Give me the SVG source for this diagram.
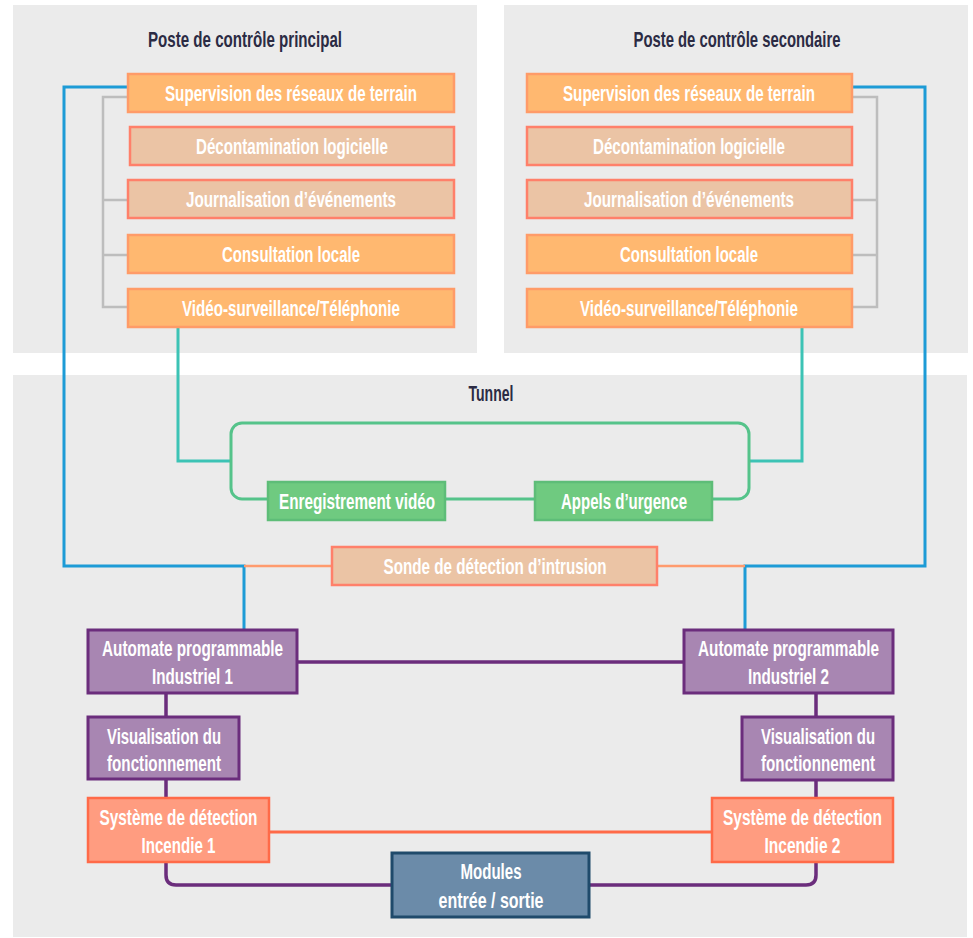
<svg xmlns="http://www.w3.org/2000/svg" width="973" height="938" viewBox="0 0 973 938">
  <style>
    text { font-family: "Liberation Sans Narrow", "Liberation Sans", "DejaVu Sans Condensed", sans-serif; font-weight: bold; text-anchor: middle; }
    .lbl { font-size: 22px; fill: #ffffff; }
    .title { font-size: 22px; fill: #2b2b44; }
    .panel { fill: #ebebeb; }
    .orange { fill: #ffb870; stroke: #ff9b68; stroke-width: 2.5; }
    .beige { fill: #ebc4a5; stroke: #ff806a; stroke-width: 2.5; }
    .green { fill: #6fca80; stroke: #5ebd78; stroke-width: 2.5; }
    .purple { fill: #a886b2; stroke: #6b2d7c; stroke-width: 3; }
    .fire { fill: #ff9c80; stroke: #ff6a48; stroke-width: 2.5; }
    .io { fill: #6b8ba9; stroke: #1f4a6b; stroke-width: 3; }
    .wire { fill: none; stroke-linejoin: miter; }
    .gray { stroke: #bdbdbd; stroke-width: 2.5; }
    .blue { stroke: #1d9bd6; stroke-width: 3; }
    .teal { stroke: #3cc3b5; stroke-width: 3; }
    .loop { stroke: #55c38a; stroke-width: 3; }
    .salmon { stroke: #ff9b6e; stroke-width: 2.5; }
    .violet { stroke: #6b2d7c; stroke-width: 3.5; }
    .red { stroke: #ff6a48; stroke-width: 3; }
  </style>

  <!-- background zones -->
  <rect width="973" height="938" fill="#ffffff"/>
  <g id="zones">
    <rect class="panel" x="13" y="5" width="464" height="348"/>
    <rect class="panel" x="504" y="5" width="464" height="348"/>
    <rect class="panel" x="13" y="375" width="954" height="562"/>
    <text class="title" x="245" y="47" textLength="194" lengthAdjust="spacingAndGlyphs">Poste de contrôle principal</text>
    <text class="title" x="737" y="47" textLength="207" lengthAdjust="spacingAndGlyphs">Poste de contrôle secondaire</text>
    <text class="title" x="491" y="401" textLength="45" lengthAdjust="spacingAndGlyphs">Tunnel</text>
  </g>

  <!-- connectors -->
  <g id="connectors" class="wire">
    <path class="gray" d="M128,97 H103 V307 H128 M103,200 H128 M103,255 H128"/>
    <path class="gray" d="M852,97 H877 V307 H852 M877,200 H852 M877,255 H852"/>
    <path class="blue" d="M128,87 H64 V566 H244 V630"/>
    <path class="blue" d="M852,87 H925 V566 H745 V630"/>
    <path class="salmon" d="M244,566 H332 M657,566 H745"/>
    <path class="teal" d="M178,327 V461 H231"/>
    <path class="teal" d="M802,327 V461 H749"/>
    <rect class="loop" x="231" y="423" width="518" height="76" rx="11"/>
    <path class="violet" d="M297,662 H684"/>
    <path class="violet" d="M166,693 V717 M166,779 V798 M166,862 V875 Q166,885 176,885 H392"/>
    <path class="violet" d="M816,693 V717 M816,780 V798 M816,862 V875 Q816,885 806,885 H589"/>
    <path class="red" d="M269,832 H712"/>
  </g>

  <!-- main control post -->
  <g id="p-supervision">
    <rect class="orange" x="128" y="74" width="326" height="38"/>
    <text class="lbl" x="291" y="101" textLength="252" lengthAdjust="spacingAndGlyphs">Supervision des réseaux de terrain</text>
  </g>
  <g id="p-decontamination">
    <rect class="beige" x="130" y="127" width="324" height="38"/>
    <text class="lbl" x="292" y="154" textLength="192" lengthAdjust="spacingAndGlyphs">Décontamination logicielle</text>
  </g>
  <g id="p-journalisation">
    <rect class="beige" x="128" y="180" width="326" height="38"/>
    <text class="lbl" x="291" y="207" textLength="210" lengthAdjust="spacingAndGlyphs">Journalisation d’événements</text>
  </g>
  <g id="p-consultation">
    <rect class="orange" x="128" y="235" width="326" height="38"/>
    <text class="lbl" x="291" y="262" textLength="138" lengthAdjust="spacingAndGlyphs">Consultation locale</text>
  </g>
  <g id="p-video">
    <rect class="orange" x="128" y="289" width="326" height="38"/>
    <text class="lbl" x="291" y="316" textLength="218" lengthAdjust="spacingAndGlyphs">Vidéo-surveillance/Téléphonie</text>
  </g>

  <!-- secondary control post -->
  <g id="s-supervision">
    <rect class="orange" x="527" y="74" width="325" height="38"/>
    <text class="lbl" x="689" y="101" textLength="252" lengthAdjust="spacingAndGlyphs">Supervision des réseaux de terrain</text>
  </g>
  <g id="s-decontamination">
    <rect class="beige" x="527" y="127" width="325" height="38"/>
    <text class="lbl" x="689" y="154" textLength="192" lengthAdjust="spacingAndGlyphs">Décontamination logicielle</text>
  </g>
  <g id="s-journalisation">
    <rect class="beige" x="527" y="180" width="325" height="38"/>
    <text class="lbl" x="689" y="207" textLength="210" lengthAdjust="spacingAndGlyphs">Journalisation d’événements</text>
  </g>
  <g id="s-consultation">
    <rect class="orange" x="527" y="235" width="325" height="38"/>
    <text class="lbl" x="689" y="262" textLength="138" lengthAdjust="spacingAndGlyphs">Consultation locale</text>
  </g>
  <g id="s-video">
    <rect class="orange" x="527" y="289" width="325" height="38"/>
    <text class="lbl" x="689" y="316" textLength="218" lengthAdjust="spacingAndGlyphs">Vidéo-surveillance/Téléphonie</text>
  </g>

  <!-- tunnel -->
  <g id="enregistrement">
    <rect class="green" x="268" y="482" width="177" height="38"/>
    <text class="lbl" x="357" y="509" textLength="156" lengthAdjust="spacingAndGlyphs">Enregistrement vidéo</text>
  </g>
  <g id="appels">
    <rect class="green" x="535" y="482" width="177" height="38"/>
    <text class="lbl" x="624" y="509" textLength="126" lengthAdjust="spacingAndGlyphs">Appels d’urgence</text>
  </g>
  <g id="sonde">
    <rect class="beige" x="332" y="547" width="325" height="38"/>
    <text class="lbl" x="495" y="574" textLength="223" lengthAdjust="spacingAndGlyphs">Sonde de détection d’intrusion</text>
  </g>

  <g id="automate1">
    <rect class="purple" x="88" y="630" width="209" height="63"/>
    <text class="lbl" x="192.5" y="656" textLength="181" lengthAdjust="spacingAndGlyphs">Automate programmable</text>
    <text class="lbl" x="192.5" y="684" textLength="81" lengthAdjust="spacingAndGlyphs">Industriel 1</text>
  </g>
  <g id="automate2">
    <rect class="purple" x="684" y="630" width="209" height="63"/>
    <text class="lbl" x="788.5" y="656" textLength="181" lengthAdjust="spacingAndGlyphs">Automate programmable</text>
    <text class="lbl" x="788.5" y="684" textLength="81" lengthAdjust="spacingAndGlyphs">Industriel 2</text>
  </g>
  <g id="visualisation1">
    <rect class="purple" x="88" y="717" width="151" height="62"/>
    <text class="lbl" x="164" y="744" textLength="114" lengthAdjust="spacingAndGlyphs">Visualisation du</text>
    <text class="lbl" x="164" y="771" textLength="114" lengthAdjust="spacingAndGlyphs">fonctionnement</text>
  </g>
  <g id="visualisation2">
    <rect class="purple" x="742" y="717" width="151" height="63"/>
    <text class="lbl" x="818" y="744" textLength="114" lengthAdjust="spacingAndGlyphs">Visualisation du</text>
    <text class="lbl" x="818" y="771" textLength="114" lengthAdjust="spacingAndGlyphs">fonctionnement</text>
  </g>
  <g id="incendie1">
    <rect class="fire" x="88" y="798" width="181" height="64"/>
    <text class="lbl" x="178.5" y="825" textLength="158" lengthAdjust="spacingAndGlyphs">Système de détection</text>
    <text class="lbl" x="178.5" y="853" textLength="74" lengthAdjust="spacingAndGlyphs">Incendie 1</text>
  </g>
  <g id="incendie2">
    <rect class="fire" x="712" y="798" width="181" height="64"/>
    <text class="lbl" x="802.5" y="825" textLength="159" lengthAdjust="spacingAndGlyphs">Système de détection</text>
    <text class="lbl" x="802.5" y="853" textLength="76" lengthAdjust="spacingAndGlyphs">Incendie 2</text>
  </g>
  <g id="modules">
    <rect class="io" x="392" y="853" width="197" height="64"/>
    <text class="lbl" x="491" y="879" textLength="61" lengthAdjust="spacingAndGlyphs">Modules</text>
    <text class="lbl" x="491" y="908" textLength="105" lengthAdjust="spacingAndGlyphs">entrée / sortie</text>
  </g>
</svg>
